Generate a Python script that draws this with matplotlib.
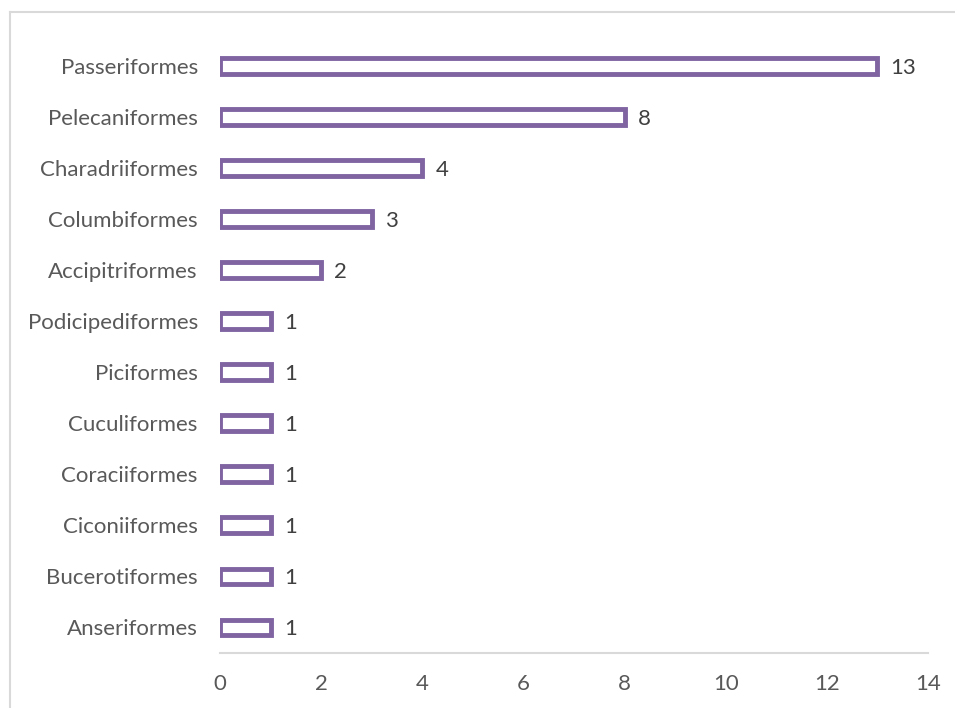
import matplotlib.pyplot as plt
from matplotlib.lines import Line2D

ordenes = ['Passeriformes', 'Pelecaniformes', 'Charadriiformes', 'Columbiformes',
           'Accipitriformes', 'Podicipediformes', 'Piciformes', 'Cuculiformes',
           'Coraciiformes', 'Ciconiiformes', 'Bucerotiformes', 'Anseriformes']
especies = [13, 8, 4, 3, 2, 1, 1, 1, 1, 1, 1, 1]
ticks_x = [0, 2, 4, 6, 8, 10, 12, 14]

morado = '#8064A2'
gris = '#595959'

plt.rcParams['font.family'] = ['Lato', 'DejaVu Sans']

fig = plt.figure(figsize=(9.55, 7.08), dpi=100)
ax = fig.add_axes([0.2304, 0.0777, 0.9717 - 0.2304, 0.9428 - 0.0777])

pos = list(range(len(ordenes)))[::-1]
ax.barh(pos, especies, height=0.31, color='white', edgecolor=morado, linewidth=3.5)

for y, v in zip(pos, especies):
    ax.text(v + 0.26, y, str(v), va='center_baseline', ha='left', fontsize=16, color='#404040')

ax.set_xlim(0, 14)
ax.set_ylim(-0.5, len(ordenes) - 0.5)
ax.set_xticks(ticks_x)
ax.set_xticklabels([str(t) for t in ticks_x])
ax.set_yticks(pos)
ax.set_yticklabels(ordenes, va='center_baseline')
ax.tick_params(axis='both', length=0, labelsize=16, labelcolor=gris)
ax.tick_params(axis='x', pad=15)
ax.tick_params(axis='y', pad=16)

for s in ['top', 'right', 'left']:
    ax.spines[s].set_visible(False)
ax.spines['bottom'].set_color('#D9D9D9')
ax.spines['bottom'].set_linewidth(1.5)

# borde del area del grafico
fig.add_artist(Line2D([10 / 955, 10 / 955], [0, 1 - 12 / 708], transform=fig.transFigure,
                      color='#D9D9D9', linewidth=1.5))
fig.add_artist(Line2D([10 / 955, 1], [1 - 12 / 708, 1 - 12 / 708], transform=fig.transFigure,
                      color='#D9D9D9', linewidth=1.5))

fig.savefig('out.png', dpi=100)
